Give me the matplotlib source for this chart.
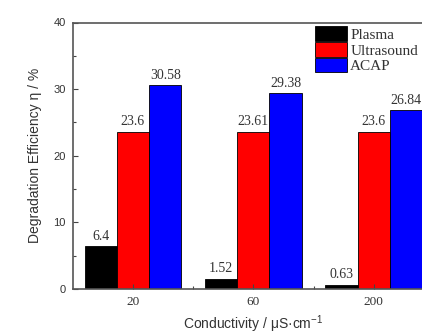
import matplotlib
matplotlib.use("Agg")
import matplotlib.pyplot as plt
import numpy as np
from matplotlib.ticker import MultipleLocator, FixedLocator

categories = ["20", "60", "200"]
series_names = ["Plasma", "Ultrasound", "ACAP"]
plasma = [6.4, 1.52, 0.63]
ultrasound = [23.6, 23.61, 23.6]
acap = [30.58, 29.38, 26.84]
value_labels = [["6.4", "1.52", "0.63"], ["23.6", "23.61", "23.6"], ["30.58", "29.38", "26.84"]]
colors = ["#000000", "#ff0000", "#0000ff"]

SERIF = "Liberation Serif"
SANS = "Liberation Sans"
plt.rcParams["mathtext.fontset"] = "custom"
plt.rcParams["mathtext.rm"] = SANS
plt.rcParams["mathtext.it"] = SANS + ":italic"

fig = plt.figure(figsize=(4.22, 3.34), dpi=100)
ax = fig.add_axes([72.7 / 422, 45 / 334, (434 - 72.7) / 422, 266.5 / 334])

x = np.arange(len(categories))
w = 0.268
for i, (vals, col, name) in enumerate(zip([plasma, ultrasound, acap], colors, series_names)):
    pos = x + (i - 1) * w
    bars = ax.bar(pos, vals, width=w, color=col, edgecolor="black", linewidth=0.6, label=name)
    for b, lab in zip(bars, value_labels[i]):
        ax.annotate(lab, (b.get_x() + b.get_width() / 2, b.get_height()),
                    xytext=(0, 2.5), textcoords="offset points", ha="center", va="bottom",
                    fontsize=10, family=SERIF, color="#333333")

ax.set_xlim(-0.5, 2.5)
ax.set_ylim(0, 40)
ax.set_xticks(x)
ax.set_xticklabels(categories, family=SERIF, fontsize=9.5)
ax.xaxis.set_minor_locator(FixedLocator([0.5, 1.5]))
ax.yaxis.set_major_locator(MultipleLocator(10))
ax.yaxis.set_minor_locator(MultipleLocator(5))
for lab in ax.get_yticklabels():
    lab.set_family(SANS)
    lab.set_fontsize(8)
ax.tick_params(which="both", direction="in", color="#444444", labelcolor="#333333")
ax.tick_params(which="major", length=3.5, width=0.8, pad=5)
ax.tick_params(which="minor", length=2, width=0.8)
for s in ax.spines.values():
    s.set_color("#555555")
    s.set_linewidth(1.2)

ax.set_ylabel("Degradation Efficiency η / %", family=SANS, fontsize=10, color="#333333", labelpad=8)
ax.set_xlabel("Conductivity / μS·cm$^{-1}$", family=SANS, fontsize=10, color="#333333", labelpad=4)

leg = ax.legend(loc="upper left", bbox_to_anchor=(0.671, 0.985), frameon=False,
                prop={"family": SERIF, "size": 11}, handlelength=2.1, handleheight=1.1,
                labelspacing=0.0, handletextpad=0.2, borderpad=0.0, borderaxespad=0.0)
for t in leg.get_texts():
    t.set_color("#333333")

fig.savefig("out.png", dpi=100)
